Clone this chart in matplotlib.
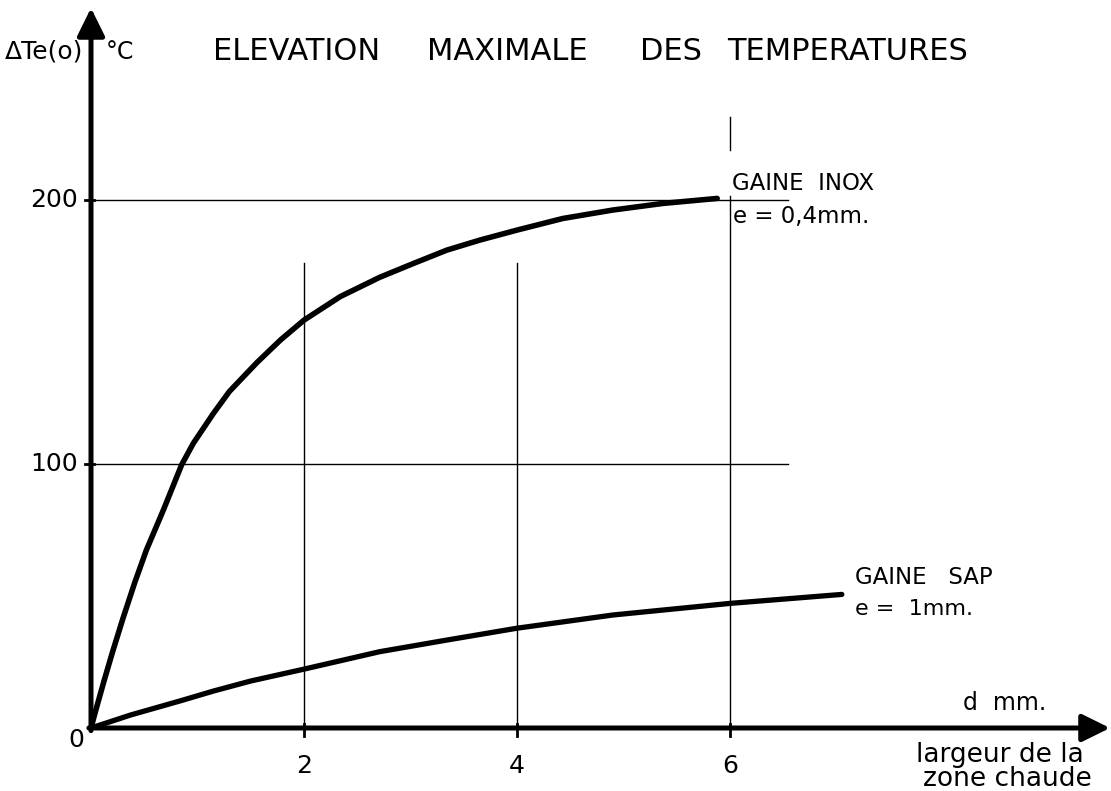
import matplotlib
matplotlib.use("Agg")
import matplotlib.pyplot as plt

# ---- data ----
inox_x = [0, 0.04, 0.12, 0.20, 0.30, 0.41, 0.52, 0.68, 0.85, 0.96, 1.15, 1.30, 1.56, 1.78,
          2.0, 2.34, 2.71, 3.03, 3.34, 3.65, 4.0, 4.43, 4.9, 5.37, 5.88]
inox_y = [0, 6.0, 17.5, 28.5, 41.5, 55.0, 67.4, 82.6, 99.6, 107.8, 119.2, 127.5, 138.5, 147.0,
          154.5, 163.4, 170.7, 176.0, 181.0, 184.8, 188.6, 193.0, 196.2, 198.7, 200.6]
sap_x = [0, 0.37, 0.84, 1.15, 1.5, 2.0, 2.71, 3.34, 4.0, 4.9, 6.0, 7.05]
sap_y = [0, 4.9, 10.3, 14.0, 17.8, 22.3, 28.9, 33.3, 37.8, 42.8, 47.2, 50.6]
x_ticks = [2, 4, 6]
x_tick_labels = ["2", "4", "6"]
y_ticks = [100, 200]
y_tick_labels = ["100", "200"]
title_words = ["ELEVATION", "MAXIMALE", "DES", "TEMPERATURES"]

plt.rcParams["font.family"] = ["DejaVu Sans"]

W, H = 1111, 791
fig = plt.figure(figsize=(W / 100, H / 100), dpi=100)
ax = fig.add_axes([0, 0, 1, 1])

# pixel mapping: x_pix = 91 + 106.5*x ; y_pix = 728 - 2.64*y
x0p, sx = 91.0, 106.5
y0p, sy = 728.0, 2.64
ax.set_xlim(-x0p / sx, (W - x0p) / sx)
ax.set_ylim((y0p - H) / sy, y0p / sy)
ax.axis("off")

def px(xp, yp):
    return (xp / W, 1 - yp / H)

# grid
gl = dict(color="black", lw=1.0)
for yv in y_ticks:
    ax.plot([0, 6.54], [yv, yv], **gl)
for xv in x_ticks[:2]:
    ax.plot([xv, xv], [0, 176], **gl)
ax.plot([6, 6], [0, 201.5], **gl)
ax.plot([6, 6], [219, 231.4], **gl)

# small tick marks
for xv in x_ticks:
    ax.plot([xv, xv], [-3, 1.5], color="black", lw=2)
for yv in y_ticks:
    ax.plot([-0.06, 0.03], [yv, yv], color="black", lw=2)

# axes with arrows
astyle = "-|>,head_length=0.85,head_width=0.42"
ax.annotate("", xy=(0, (y0p - 8) / sy), xytext=(0, -1),
            arrowprops=dict(arrowstyle=astyle, lw=3.6, color="black",
                            mutation_scale=20, shrinkA=0, shrinkB=0))
ax.annotate("", xy=((1110 - x0p) / sx, 0), xytext=(-0.02, 0),
            arrowprops=dict(arrowstyle=astyle, lw=3.6, color="black",
                            mutation_scale=20, shrinkA=0, shrinkB=0))

# curves
ax.plot(inox_x, inox_y, color="black", lw=4.0, solid_capstyle="round", solid_joinstyle="round")
ax.plot(sap_x, sap_y, color="black", lw=3.8, solid_capstyle="round", solid_joinstyle="round")

# tick labels
for xv, lab in zip(x_ticks, x_tick_labels):
    ax.text(xv, -14.5, lab, ha="center", va="center", fontsize=18)
for yv, lab in zip(y_ticks, y_tick_labels):
    ax.text(-0.12, yv, lab, ha="right", va="center", fontsize=18)
ax.text(-0.14, -4.5, "0", ha="center", va="center", fontsize=18)

# title / axis labels
fig.text(*px(5, 52), "ΔTe(o)", ha="left", va="center", fontsize=18)
fig.text(*px(106, 52), "°C", ha="left", va="center", fontsize=17)
title_x = [213, 427, 640, 727]
for xp_, w in zip(title_x, title_words):
    fig.text(*px(xp_, 51), w, ha="left", va="center", fontsize=22)

fig.text(*px(732, 184), "GAINE  INOX", ha="left", va="center", fontsize=16.5)
fig.text(*px(733, 217), "e = 0,4mm.", ha="left", va="center", fontsize=16.5)
fig.text(*px(855, 578), "GAINE   SAP", ha="left", va="center", fontsize=16.5)
fig.text(*px(855, 609), "e =  1mm.", ha="left", va="center", fontsize=16)

fig.text(*px(1046, 703), "d  mm.", ha="right", va="center", fontsize=17)
fig.text(*px(1084, 755), "largeur de la", ha="right", va="center", fontsize=19)
fig.text(*px(1092, 779), "zone chaude", ha="right", va="center", fontsize=19)

fig.savefig("out.png", dpi=100)
